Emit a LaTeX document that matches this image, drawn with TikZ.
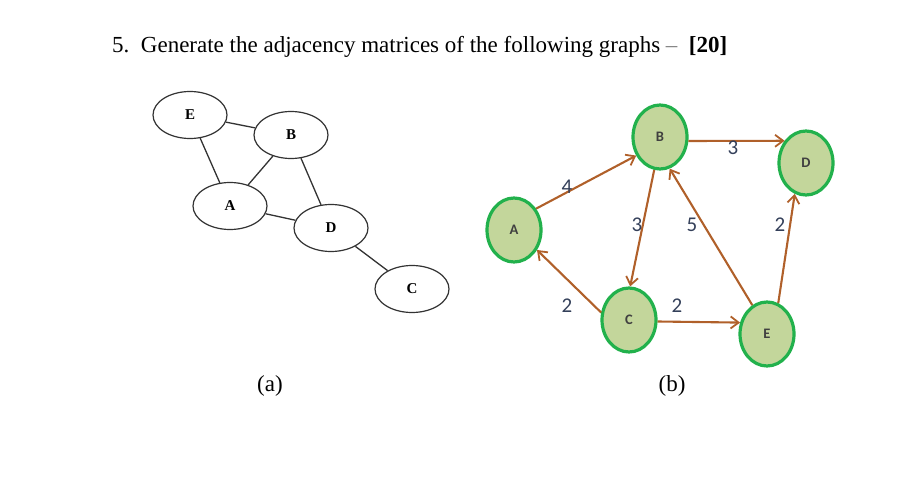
\documentclass[tikz,border=0pt]{standalone}
\usepackage{fontspec}
\setmainfont{Liberation Serif}
\newfontfamily\calib{Carlito}
\usetikzlibrary{shapes.geometric,arrows.meta}
\definecolor{nodegreen}{HTML}{C3D69B}
\definecolor{bordgreen}{HTML}{22B14C}
\definecolor{arrbrown}{HTML}{B0602A}
\definecolor{labblue}{HTML}{34405A}
\tikzset{
  anode/.style={ellipse, draw=black!80, line width=1.2pt, minimum width=74pt, minimum height=47pt, inner sep=0pt, font=\fontsize{15}{15}\selectfont\bfseries},
  aedge/.style={draw=black!80, line width=1.3pt},
  bnode/.style={ellipse, draw=bordgreen, fill=nodegreen, line width=3.2pt, minimum width=54pt, minimum height=64pt, inner sep=0pt, font=\calib\fontsize{14.5}{14.5}\selectfont\bfseries, text=black!75},
  barr/.style={draw=arrbrown, line width=2.1pt, -{Straight Barb[length=8pt,width=12pt,line width=1.8pt]}},
  wlab/.style={font=\calib\fontsize{21}{21}\selectfont, text=labblue, inner sep=0pt},
  captext/.style={font=\fontsize{23}{23}\selectfont, inner sep=0pt}
}
\begin{document}
\begin{tikzpicture}[x=1pt,y=-1pt]
\useasboundingbox (0,0) rectangle (907,497);
% title
\node[anchor=base west, inner sep=0pt, font=\fontsize{23}{23}\selectfont] (title) at (112,53) {5.\ \ Generate the adjacency matrices of the following graphs \textcolor{black!50}{--}\ \ \textbf{[20]}};
% graph (a)
\node[anode] (aE) at (190,115) {E};
\node[anode] (aB) at (291,135) {B};
\node[anode] (aA) at (230,206) {A};
\node[anode] (aD) at (331,228) {D};
\node[anode] (aC) at (412,289) {C};
\draw[aedge] (aE) -- (aB);
\draw[aedge] (aE) -- (aA);
\draw[aedge] (aB) -- (aA);
\draw[aedge] (aB) -- (aD);
\draw[aedge] (aA) -- (aD);
\draw[aedge] (aD) -- (aC);
% graph (b)
\node[bnode] (bB) at (660,137) {B};
\node[bnode] (bD) at (806,163) {D};
\node[bnode] (bA) at (514,230) {A};
\node[bnode] (bC) at (629,320) {C};
\node[bnode] (bE) at (767,334) {E};
\draw[barr] (bA.44) -- (bB.218);
\draw[barr] (bB.-8) -- (bD.134);
\draw[barr] (bB.260) -- (bC.88);
\draw[barr] (bE.117) -- (bB.287);
\draw[barr] (bE.70) -- (bD.250);
\draw[barr] (bC.165) -- (bA.319);
\draw[barr] (bC.-3) -- (bE.157);
\node[wlab] (l1) at (567,187) {4};
\node[wlab] (l2) at (733,148) {3};
\node[wlab] (l3) at (637,225) {3};
\node[wlab] (l4) at (692,225) {5};
\node[wlab] (l5) at (780,225) {2};
\node[wlab] (l6) at (567,306) {2};
\node[wlab] (l7) at (677,306) {2};
% captions
\node[captext] (ca) at (270,386) {(a)};
\node[captext] (cb) at (672,386) {(b)};
\end{tikzpicture}
\end{document}
